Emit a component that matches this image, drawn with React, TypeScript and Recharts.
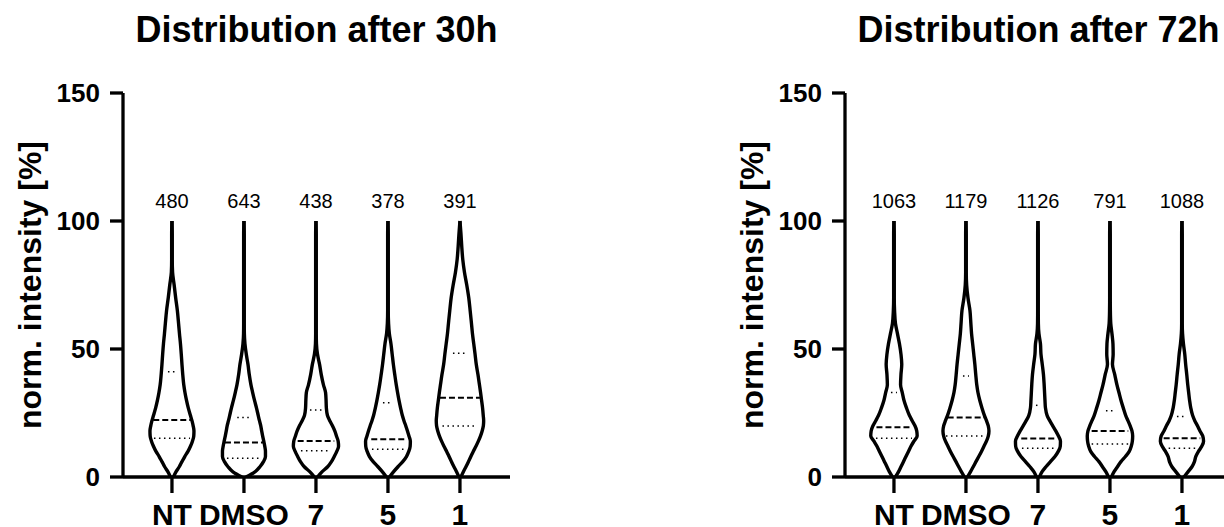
import { ComposedChart, Line, Scatter, LabelList, XAxis, YAxis } from 'recharts';

const FONT = '"Liberation Sans", Arial, Helvetica, sans-serif';

const categories = ['NT', 'DMSO', '7', '5', '1'];
const counts30h = [480, 643, 438, 378, 391];
const counts72h = [1063, 1179, 1126, 791, 1088];

const levels = [0, 2, 4, 6, 8, 10, 12, 14, 16, 18, 20, 22, 24, 27, 30, 33, 36, 40, 44, 48, 52, 56, 60, 65, 70, 75, 80, 85, 90, 95, 100];

// kernel density (half width) per level, 30h
const ntDens30 = [1.5, 4, 7.3, 10, 12.8, 16, 18.5, 20.5, 21.8, 22, 21.2, 20, 18.5, 16.3, 14.5, 13, 11.8, 10.8, 10, 9.3, 8.5, 7.5, 6.6, 5.4, 3.7, 2.2, 0.6, 0.3, 0.3, 0.3, 0];
const dmsoDens30 = [2, 11, 16, 19.5, 21.5, 21.5, 20.8, 19.8, 18.7, 17.7, 16.8, 15.5, 14.3, 12.5, 10.5, 8.7, 7, 5.3, 4, 2.3, 1, 0.4, 0.3, 0.3, 0.3, 0.3, 0.3, 0.3, 0.3, 0.3, 0];
const c7Dens30 = [1.5, 6, 11.7, 15.5, 18.3, 20.8, 22.6, 22.2, 20.5, 18.8, 16.5, 13.8, 11.5, 10.4, 10.1, 9.6, 7.5, 5.3, 3.6, 1.5, 0.5, 0.3, 0.3, 0.3, 0.3, 0.3, 0.3, 0.3, 0.3, 0.3, 0];
const c5Dens30 = [1.5, 5.5, 10, 14.8, 18.5, 20.8, 22.2, 22.4, 21, 19.5, 17.8, 16, 14.4, 12.6, 11, 9.6, 8.3, 6.8, 5.4, 4.2, 3, 1.4, 0.6, 0.3, 0.3, 0.3, 0.3, 0.3, 0.3, 0.3, 0];
const c1Dens30 = [1, 3.3, 6, 8.5, 10.9, 13.3, 16, 18.4, 20.5, 22.2, 23.4, 23.7, 23.3, 22.6, 21.6, 20.6, 19.5, 18, 16.3, 15.1, 13.8, 12.5, 11.5, 10.2, 8.8, 6.8, 4.5, 2.8, 1.8, 1.0, 0];

// 72h
const ntDens72 = [1.5, 4.5, 7, 9.5, 12, 14.5, 17, 20, 23.2, 22.8, 21, 18.2, 15.5, 12.5, 10, 8.3, 6.6, 7, 7.8, 7, 5.5, 3.5, 1.5, 0.6, 0.3, 0.3, 0.3, 0.3, 0.3, 0.3, 0];
const dmsoDens72 = [1.5, 4.5, 7.3, 10, 12.8, 15.5, 18, 20.5, 22.3, 23, 22.3, 20.5, 18.5, 16, 13.8, 12, 10.8, 9.8, 8.9, 7.8, 6.7, 5.6, 4.9, 4, 2, 0.7, 0.3, 0.3, 0.3, 0.3, 0];
const c7Dens72 = [1.5, 4, 8, 12.5, 17, 20.3, 22.3, 22.5, 20.5, 17.8, 14.8, 11.8, 9.2, 7.5, 7, 6.6, 6.2, 5.5, 4.3, 3, 2.5, 1, 0.4, 0.3, 0.3, 0.3, 0.3, 0.3, 0.3, 0.3, 0];
const c5Dens72 = [1.5, 4, 7.5, 11, 15.5, 19.3, 21.3, 22.4, 22.7, 22, 20.2, 18, 15.8, 13.3, 11, 9, 7, 4.8, 2.5, 3.2, 3, 2, 0.8, 0.4, 0.3, 0.3, 0.3, 0.3, 0.3, 0.3, 0];
const c1Dens72 = [2, 6, 10, 12.5, 13.8, 16.5, 19.8, 21.6, 20.8, 18, 15.5, 12.8, 10.7, 8.8, 7.6, 6.7, 5.8, 4.8, 3.7, 2.8, 1.5, 0.6, 0.3, 0.3, 0.3, 0.3, 0.3, 0.3, 0.3, 0.3, 0];

// quartiles and median, plus the width their lines span
const q1_30 = [15.1, 7.3, 10.3, 10.8, 19.9];
const med_30 = [22.3, 13.5, 14.1, 14.7, 31];
const q3_30 = [41.1, 23.2, 26.2, 29, 48.3];
const q1W_30 = [18, 17, 15, 16, 17.5];
const medW_30 = [18.7, 19, 18.3, 16.7, 20];
const q3W_30 = [4, 6.7, 6, 5, 7];

const q1_72 = [15.1, 16, 11.2, 12.9, 11.2];
const med_72 = [19.4, 23.2, 15, 18, 15.1];
const q3_72 = [33, 39.5, 28, 25.9, 23.6];
const q1W_72 = [18, 20, 16, 18.3, 13.3];
const medW_72 = [17.5, 18.3, 16.7, 18.3, 18.3];
const q3W_72 = [3, 3, 2, 4, 5];

// density units -> category units
const WIDTH = 1 / 72;
const COUNT_LEVEL = 108;

const side = (i: number, dens: number[], sign: number) =>
  levels.map((v, k) => ({ x: i + sign * dens[k] * WIDTH, y: v })).reverse();

const hline = (i: number, y: number, w: number) => [
  { x: i - w * WIDTH, y },
  { x: i + w * WIDTH, y },
];

const YTitle = (props: any) => {
  const vb = props.viewBox || {};
  const cy = (vb.y ?? 93) + (vb.height ?? 384) / 2;
  const x = 41;
  return (
    <text
      x={x}
      y={cy}
      transform={`rotate(-90 ${x} ${cy})`}
      textAnchor="middle"
      fontSize={32}
      fontWeight="bold"
      fontFamily={FONT}
      fill="#000"
    >
      norm. intensity [%]
    </text>
  );
};

type PanelProps = {
  title: string;
  counts: number[];
  shapes: number[][];
  q1: number[];
  med: number[];
  q3: number[];
  q1W: number[];
  medW: number[];
  q3W: number[];
};

const lineProps = {
  dataKey: 'y',
  stroke: '#000',
  dot: false,
  activeDot: false,
  isAnimationActive: false,
};

const ViolinPanel = ({ title, counts, shapes, q1, med, q3, q1W, medW, q3W }: PanelProps) => {
  const countData = counts.map((n, i) => ({ x: i, y: COUNT_LEVEL, n }));
  return (
    <div style={{ position: 'relative', width: 722, height: 527 }}>
      <div
        style={{
          position: 'absolute',
          left: 123,
          width: 387,
          top: 12,
          textAlign: 'center',
          fontFamily: FONT,
          fontWeight: 'bold',
          fontSize: 36,
          lineHeight: '36px',
          whiteSpace: 'nowrap',
          color: '#000',
        }}
      >
        {title}
      </div>
      <ComposedChart width={722} height={527} margin={{ top: 93, right: 212, bottom: 0, left: 0 }}>
        <XAxis
          type="number"
          dataKey="x"
          domain={[-0.68, 4.695]}
          ticks={[0, 1, 2, 3, 4]}
          interval={0}
          allowDataOverflow
          tickFormatter={(i) => categories[i]}
          height={50}
          tickSize={16}
          tickMargin={11}
          axisLine={{ stroke: '#000', strokeWidth: 3.3 }}
          tickLine={{ stroke: '#000', strokeWidth: 3.3 }}
          tick={{ fill: '#000', fontSize: 30, fontWeight: 'bold', fontFamily: FONT }}
        />
        <YAxis
          type="number"
          dataKey="y"
          domain={[0, 150]}
          ticks={[0, 50, 100, 150]}
          interval={0}
          allowDataOverflow
          width={123}
          tickSize={13}
          tickMargin={10}
          axisLine={{ stroke: '#000', strokeWidth: 3.3 }}
          tickLine={{ stroke: '#000', strokeWidth: 3.3 }}
          tick={{ fill: '#000', fontSize: 26, fontWeight: 'bold', fontFamily: FONT }}
          label={{ content: YTitle }}
        />

        {shapes.map((dens, i) => [
          <Line
            key={`r${i}`}
            {...lineProps}
            data={side(i, dens, 1)}
            type="monotoneY"
            strokeWidth={3.4}
            strokeLinejoin="round"
          />,
          <Line
            key={`l${i}`}
            {...lineProps}
            data={side(i, dens, -1)}
            type="monotoneY"
            strokeWidth={3.4}
            strokeLinejoin="round"
          />,
        ])}

        {categories.map((_, i) => [
          <Line
            key={`m${i}`}
            {...lineProps}
            data={hline(i, med[i], medW[i])}
            type="linear"
            strokeWidth={2}
            strokeDasharray="6 3"
          />,
          <Line
            key={`q1${i}`}
            {...lineProps}
            data={hline(i, q1[i], q1W[i])}
            type="linear"
            strokeWidth={1.5}
            strokeDasharray="1.5 3.5"
          />,
          <Line
            key={`q3${i}`}
            {...lineProps}
            data={hline(i, q3[i], q3W[i])}
            type="linear"
            strokeWidth={1.5}
            strokeDasharray="1.5 3.5"
          />,
        ])}

        <Scatter data={countData} dataKey="y" shape={() => <g />} isAnimationActive={false}>
          <LabelList dataKey="n" position="center" fill="#000" fontSize={20} fontFamily={FONT} />
        </Scatter>
      </ComposedChart>
    </div>
  );
};

export default function App() {
  return (
    <div style={{ position: 'relative', width: 1224, height: 527, overflow: 'hidden', background: '#fff' }}>
      <style>{'body{margin:0}'}</style>
      <div style={{ position: 'absolute', left: 0, top: 0 }}>
        <ViolinPanel
          title="Distribution after 30h"
          counts={counts30h}
          shapes={[ntDens30, dmsoDens30, c7Dens30, c5Dens30, c1Dens30]}
          q1={q1_30}
          med={med_30}
          q3={q3_30}
          q1W={q1W_30}
          medW={medW_30}
          q3W={q3W_30}
        />
      </div>
      <div style={{ position: 'absolute', left: 722, top: 0 }}>
        <ViolinPanel
          title="Distribution after 72h"
          counts={counts72h}
          shapes={[ntDens72, dmsoDens72, c7Dens72, c5Dens72, c1Dens72]}
          q1={q1_72}
          med={med_72}
          q3={q3_72}
          q1W={q1W_72}
          medW={medW_72}
          q3W={q3W_72}
        />
      </div>
    </div>
  );
}
